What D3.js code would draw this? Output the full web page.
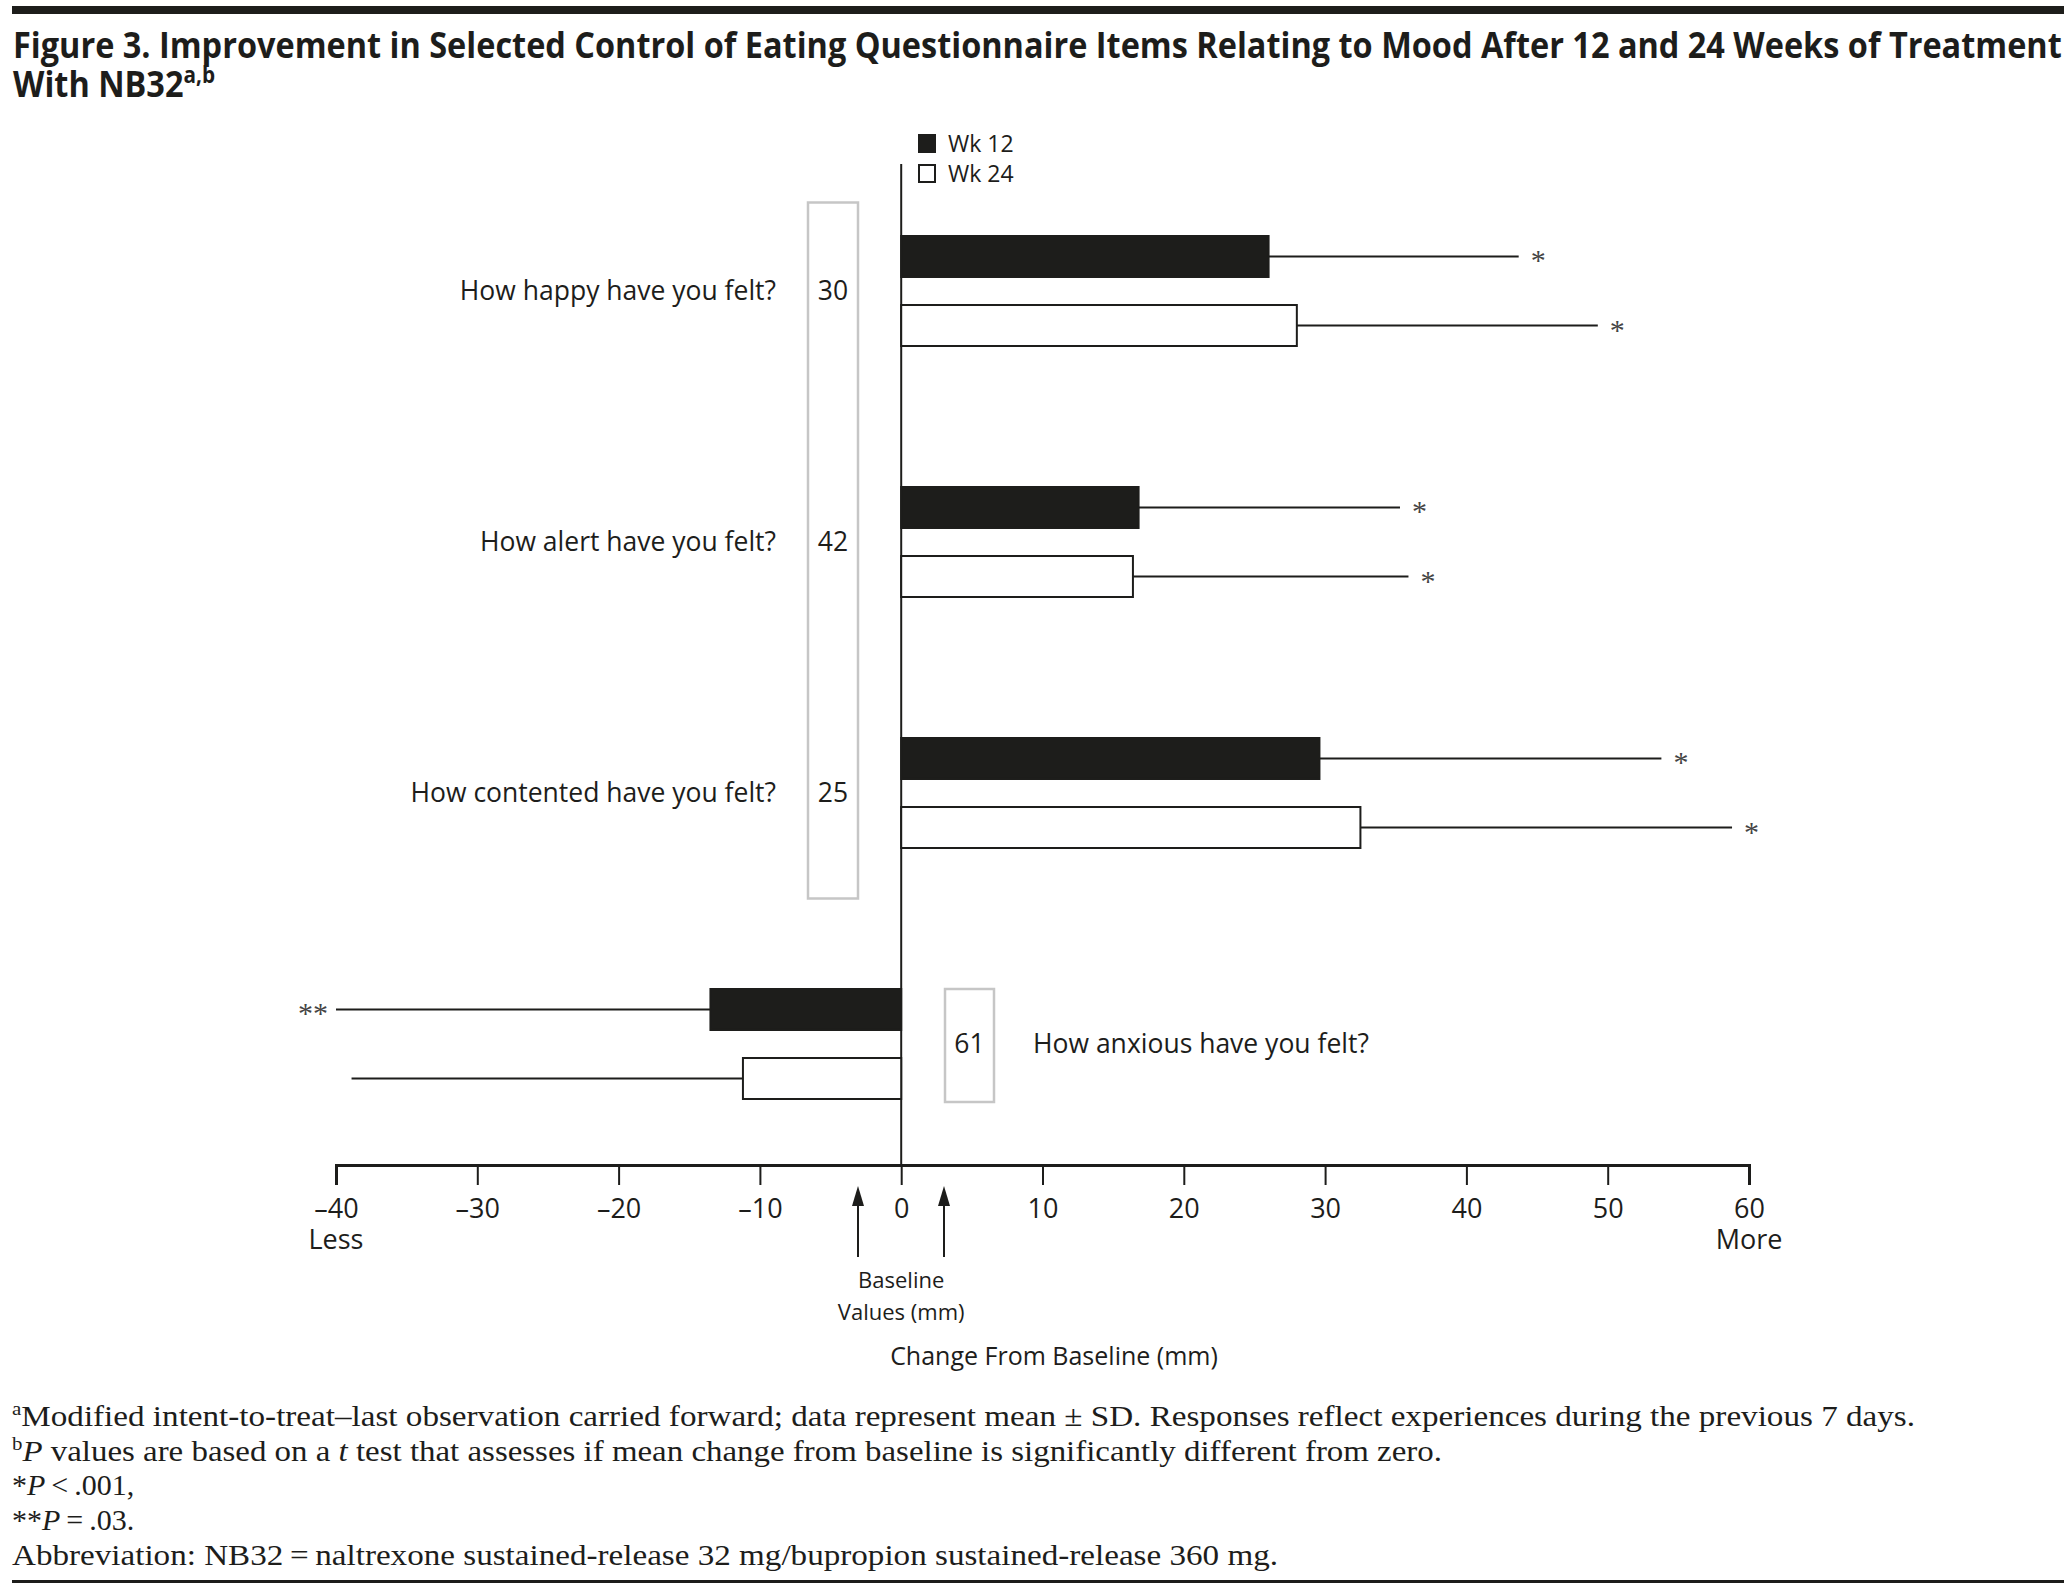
<!DOCTYPE html>
<html>
<head>
<meta charset="utf-8">
<script src="https://cdn.jsdelivr.net/npm/d3@7"></script>
<style>
body { margin: 0; background: #fff; }
svg text { fill: #1d1d1b; }
.sans { font-family: "Open Sans", "Noto Sans", sans-serif; }
.serif { font-family: "Liberation Serif", "DejaVu Serif", serif; }
</style>
</head>
<body>
<script>
// values (mm change from baseline, mean and SD)
var categories = ["How happy have you felt?", "How alert have you felt?", "How contented have you felt?", "How anxious have you felt?"];
var baselineValues = [30, 42, 25, 61];
var wk12Mean = [26.0, 16.8, 29.6, -13.5];
var wk12SD = [17.7, 18.5, 24.2, 26.5];
var wk24Mean = [28.0, 16.4, 32.5, -11.2];
var wk24SD = [21.3, 19.5, 26.3, 27.7];
var wk12Sig = ["*", "*", "*", "**"];
var wk24Sig = ["*", "*", "*", ""];
var seriesNames = ["Wk 12", "Wk 24"];
var xTicks = [-40, -30, -20, -10, 0, 10, 20, 30, 40, 50, 60];

var width = 2068, height = 1585;
var ink = "#1d1d1b";

var svg = d3.select("body").append("svg")
	.attr("width", width)
	.attr("height", height);

// top and bottom rules
svg.append("rect").attr("x", 12).attr("y", 6).attr("width", 2052).attr("height", 8).attr("fill", ink);
svg.append("rect").attr("x", 12).attr("y", 1580).attr("width", 2052).attr("height", 3).attr("fill", ink);

// title, squeezed to the width of the page
var title = svg.append("g").attr("class", "sans");
var t1 = title.append("text").attr("x", 0).attr("y", 58)
	.style("font-size", "36px").style("font-weight", 700)
	.text("Figure 3. Improvement in Selected Control of Eating Questionnaire Items Relating to Mood After 12 and 24 Weeks of Treatment");
var t2 = title.append("text").attr("x", 0).attr("y", 97)
	.style("font-size", "36px").style("font-weight", 700);
t2.append("tspan").text("With NB32");
t2.append("tspan").attr("dy", -14).style("font-size", "23px").text("a,b");
var sx = 2050 / t1.node().getComputedTextLength();
title.attr("transform", "translate(13,0) scale(" + sx + ",1)");

// scales
var x = d3.scaleLinear().domain([-40, 60]).range([336, 1749]);
var y = d3.scaleBand().domain(categories).range([165.5, 1169.5]);
var inner = d3.scaleBand().domain(seriesNames).range([-55, 55]).paddingInner(0.406);

var rows = categories.map(function(c, i) {
	return [
		{cat: c, s: "Wk 12", mean: wk12Mean[i], sd: wk12SD[i], sig: wk12Sig[i]},
		{cat: c, s: "Wk 24", mean: wk24Mean[i], sd: wk24SD[i], sig: wk24Sig[i]}
	];
});
var bars = [].concat.apply([], rows);

function yc(c) { return y(c) + y.bandwidth() / 2; }

// zero line
svg.append("line")
	.attr("x1", x(0)).attr("x2", x(0))
	.attr("y1", 164).attr("y2", 1165)
	.attr("stroke", ink).attr("stroke-width", 2);

// error lines
svg.selectAll(".err").data(bars).enter().append("line")
	.attr("x1", function(d){ return x(d.mean); })
	.attr("x2", function(d){ return x(d.mean + (d.mean < 0 ? -d.sd : d.sd)); })
	.attr("y1", function(d){ return yc(d.cat) + inner(d.s) + inner.bandwidth() / 2; })
	.attr("y2", function(d){ return yc(d.cat) + inner(d.s) + inner.bandwidth() / 2; })
	.attr("stroke", ink).attr("stroke-width", 2);

// bars
svg.selectAll(".bar").data(bars).enter().append("rect")
	.attr("x", function(d){ return x(Math.min(0, d.mean)); })
	.attr("width", function(d){ return Math.abs(x(d.mean) - x(0)); })
	.attr("y", function(d){ return yc(d.cat) + inner(d.s); })
	.attr("height", inner.bandwidth())
	.attr("fill", function(d){ return d.s == "Wk 12" ? ink : "#fff"; })
	.attr("stroke", ink).attr("stroke-width", 2);

// significance marks
svg.selectAll(".sig").data(bars).enter().append("text")
	.attr("class", "serif")
	.attr("x", function(d){ return d.mean < 0 ? x(d.mean - d.sd) - 8 : x(d.mean + d.sd) + 12; })
	.attr("y", function(d){ return yc(d.cat) + inner(d.s) + inner.bandwidth() / 2 + 14; })
	.attr("text-anchor", function(d){ return d.mean < 0 ? "end" : "start"; })
	.style("font-size", "30px")
	.style("fill", "#444")
	.text(function(d){ return d.sig; });

// item labels and baseline values
svg.selectAll(".lab").data(categories).enter().append("text")
	.attr("class", "sans")
	.attr("x", function(d, i){ return wk12Mean[i] < 0 ? 1033 : 776; })
	.attr("y", function(d){ return yc(d) + 9; })
	.attr("text-anchor", function(d, i){ return wk12Mean[i] < 0 ? "start" : "end"; })
	.style("font-size", "26.5px")
	.text(function(d){ return d; });

svg.append("rect").attr("x", 808).attr("y", y(categories[0]) + 37)
	.attr("width", 50).attr("height", y(categories[2]) + y.bandwidth() - 20 - (y(categories[0]) + 37))
	.attr("fill", "none").attr("stroke", "#c6c6c6").attr("stroke-width", 2.5);
svg.append("rect").attr("x", 945).attr("y", yc(categories[3]) - 55)
	.attr("width", 49).attr("height", 113)
	.attr("fill", "none").attr("stroke", "#c6c6c6").attr("stroke-width", 2.5);

svg.selectAll(".base").data(categories).enter().append("text")
	.attr("class", "sans")
	.attr("x", function(d, i){ return wk12Mean[i] < 0 ? 969.5 : 833; })
	.attr("y", function(d){ return yc(d) + 9; })
	.attr("text-anchor", "middle")
	.style("font-size", "26.5px")
	.text(function(d, i){ return baselineValues[i]; });

// legend
var leg = svg.selectAll(".leg").data(seriesNames).enter().append("g")
	.attr("transform", function(d, i){ return "translate(918," + (134 + i * 30) + ")"; });
leg.append("rect").attr("x", 1).attr("y", 1).attr("width", 16).attr("height", 17)
	.attr("fill", function(d, i){ return i == 0 ? ink : "#fff"; })
	.attr("stroke", ink).attr("stroke-width", 2);
leg.append("text").attr("class", "sans").attr("x", 30).attr("y", 18)
	.style("font-size", "23px").text(function(d){ return d; });

// x axis
var axis = d3.axisBottom(x).tickValues(xTicks).tickSize(20).tickPadding(14)
	.tickFormat(function(d){ return d < 0 ? "\u2013" + Math.abs(d) : d; });
var ax = svg.append("g").attr("transform", "translate(0,1165)").call(axis);
ax.select(".domain").attr("stroke", ink).attr("stroke-width", 3);
ax.selectAll(".tick line").attr("stroke", ink).attr("stroke-width", 2);
ax.selectAll(".tick text").attr("class", "sans").style("font-size", "27px").attr("fill", ink);

svg.append("text").attr("class", "sans").attr("x", x(-40)).attr("y", 1249)
	.attr("text-anchor", "middle").style("font-size", "27px").text("Less");
svg.append("text").attr("class", "sans").attr("x", x(60)).attr("y", 1249)
	.attr("text-anchor", "middle").style("font-size", "27px").text("More");

// arrows to baseline boxes
[858, 944].forEach(function(ax0) {
	svg.append("line").attr("x1", ax0).attr("x2", ax0).attr("y1", 1200).attr("y2", 1257)
		.attr("stroke", ink).attr("stroke-width", 2);
	svg.append("path").attr("d", "M" + (ax0 - 6) + ",1206 L" + ax0 + ",1186 L" + (ax0 + 6) + ",1206 Z")
		.attr("fill", ink);
});

svg.append("text").attr("class", "sans").attr("x", x(0)).attr("y", 1288)
	.attr("text-anchor", "middle").style("font-size", "22px").text("Baseline");
svg.append("text").attr("class", "sans").attr("x", x(0)).attr("y", 1320)
	.attr("text-anchor", "middle").style("font-size", "22px").text("Values (mm)");
svg.append("text").attr("class", "sans").attr("x", 1054).attr("y", 1365)
	.attr("text-anchor", "middle").style("font-size", "25px").text("Change From Baseline (mm)");

// footnotes
var notes = svg.append("g").attr("class", "serif").style("font-size", "30px");
function note(yy, parts, len) {
	var t = notes.append("text").attr("x", 12).attr("y", yy);
	var up = false;
	parts.forEach(function(p) {
		var s = t.append("tspan").text(p[0]);
		if (p[1] == "sup") { s.attr("dy", -11).style("font-size", "19px"); up = true; }
		else if (up) { s.attr("dy", 11); up = false; }
		if (p[1] == "it") s.style("font-style", "italic");
	});
	if (len) t.attr("textLength", len).attr("lengthAdjust", "spacingAndGlyphs");
	return t;
}
note(1426, [["a", "sup"], ["Modified intent-to-treat\u2013last observation carried forward; data represent mean \u00b1 SD. Responses reflect experiences during the previous 7 days."]], 1903);
note(1461, [["b", "sup"], ["P", "it"], [" values are based on a "], ["t", "it"], [" test that assesses if mean change from baseline is significantly different from zero."]], 1430);
note(1495, [["*"], ["P", "it"], ["\u2009<\u2009.001,"]]);
note(1530, [["**"], ["P", "it"], ["\u2009=\u2009.03."]]);
note(1565, [["Abbreviation: NB32\u2009=\u2009naltrexone sustained-release 32 mg/bupropion sustained-release 360 mg."]], 1266);
</script>
</body>
</html>
